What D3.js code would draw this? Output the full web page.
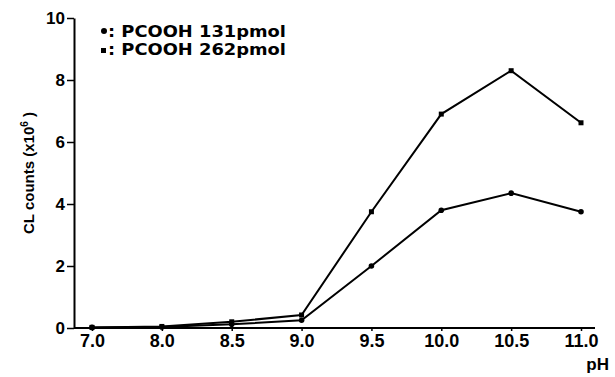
<!DOCTYPE html>
<html>
<head>
<meta charset="utf-8">
<script src="https://cdn.jsdelivr.net/npm/d3@7"></script>
<style>
  body { margin: 0; background: #fff; }
  text { font-family: "Liberation Sans", Arial, sans-serif; font-weight: bold; fill: #000; }
</style>
</head>
<body>
<script>
var phLabels = ["7.0", "8.0", "8.5", "9.0", "9.5", "10.0", "10.5", "11.0"];
var pcooh131 = [0.02, 0.03, 0.12, 0.25, 2.0, 3.8, 4.35, 3.75];
var pcooh262 = [0.02, 0.05, 0.2, 0.42, 3.75, 6.9, 8.3, 6.62];
var yTicks = [0, 2, 4, 6, 8, 10];

var w = 615, h = 377;
var margin = { top: 18, right: 20, bottom: 49, left: 74 };

var svg = d3.select("body").append("svg")
    .attr("width", w)
    .attr("height", h);

var xScale = d3.scalePoint()
    .domain(phLabels)
    .range([92, 581]);

var yScale = d3.scaleLinear()
    .domain([0, 10])
    .range([h - margin.bottom, margin.top]);

// y axis
var yAxis = svg.append("g")
    .attr("transform", "translate(" + margin.left + ",0)")
    .call(d3.axisLeft(yScale).tickValues(yTicks).tickSize(7).tickPadding(2).tickSizeOuter(0));
yAxis.select(".domain").attr("stroke-width", 2);
yAxis.selectAll(".tick line").attr("stroke-width", 1.5);
yAxis.selectAll(".tick text").style("font-size", "17px");

// x axis
var xAxis = svg.append("g")
    .attr("transform", "translate(0," + yScale(0) + ")")
    .call(d3.axisBottom(xScale).tickSize(3).tickPadding(3).tickSizeOuter(0));
xAxis.select(".domain").attr("d", "M" + margin.left + ",0H595").attr("stroke-width", 2);
xAxis.selectAll(".tick line").attr("stroke-width", 1.5);
xAxis.selectAll(".tick text").style("font-size", "18px");

svg.append("text")
    .attr("x", 609)
    .attr("y", 370)
    .attr("text-anchor", "end")
    .style("font-size", "17px")
    .text("pH");

var yLabel = svg.append("text")
    .attr("transform", "translate(34," + 173 + ")rotate(-90)")
    .attr("text-anchor", "middle")
    .style("font-size", "15px");
yLabel.append("tspan").text("CL counts (x10");
yLabel.append("tspan").attr("dy", -6).style("font-size", "10px").text("6");
yLabel.append("tspan").attr("dy", 6).text(" )");

var line = d3.line()
    .x(function(d, i) { return xScale(phLabels[i]); })
    .y(function(d) { return yScale(d); });

[pcooh131, pcooh262].forEach(function(series) {
  svg.append("path")
      .datum(series)
      .attr("d", line)
      .attr("fill", "none")
      .attr("stroke", "#000")
      .attr("stroke-width", 2);
});

svg.selectAll(".dot")
    .data(pcooh131)
    .enter()
    .append("circle")
    .attr("class", "dot")
    .attr("cx", function(d, i) { return xScale(phLabels[i]); })
    .attr("cy", function(d) { return yScale(d); })
    .attr("r", 2.8);

svg.selectAll(".sq")
    .data(pcooh262)
    .enter()
    .append("rect")
    .attr("class", "sq")
    .attr("x", function(d, i) { return xScale(phLabels[i]) - 2.5; })
    .attr("y", function(d) { return yScale(d) - 2.5; })
    .attr("width", 5)
    .attr("height", 5);

// legend
var legend = svg.append("g");
legend.append("circle").attr("cx", 104).attr("cy", 31).attr("r", 3);
legend.append("rect").attr("x", 101).attr("y", 48).attr("width", 5).attr("height", 5);
legend.append("text").attr("x", 108).attr("y", 37)
    .style("font-family", "'DejaVu Sans', sans-serif").style("font-size", "16px")
    .attr("textLength", 178).attr("lengthAdjust", "spacingAndGlyphs")
    .text(": PCOOH 131pmol");
legend.append("text").attr("x", 108).attr("y", 55)
    .style("font-family", "'DejaVu Sans', sans-serif").style("font-size", "16px")
    .attr("textLength", 178).attr("lengthAdjust", "spacingAndGlyphs")
    .text(": PCOOH 262pmol");
</script>
</body>
</html>
